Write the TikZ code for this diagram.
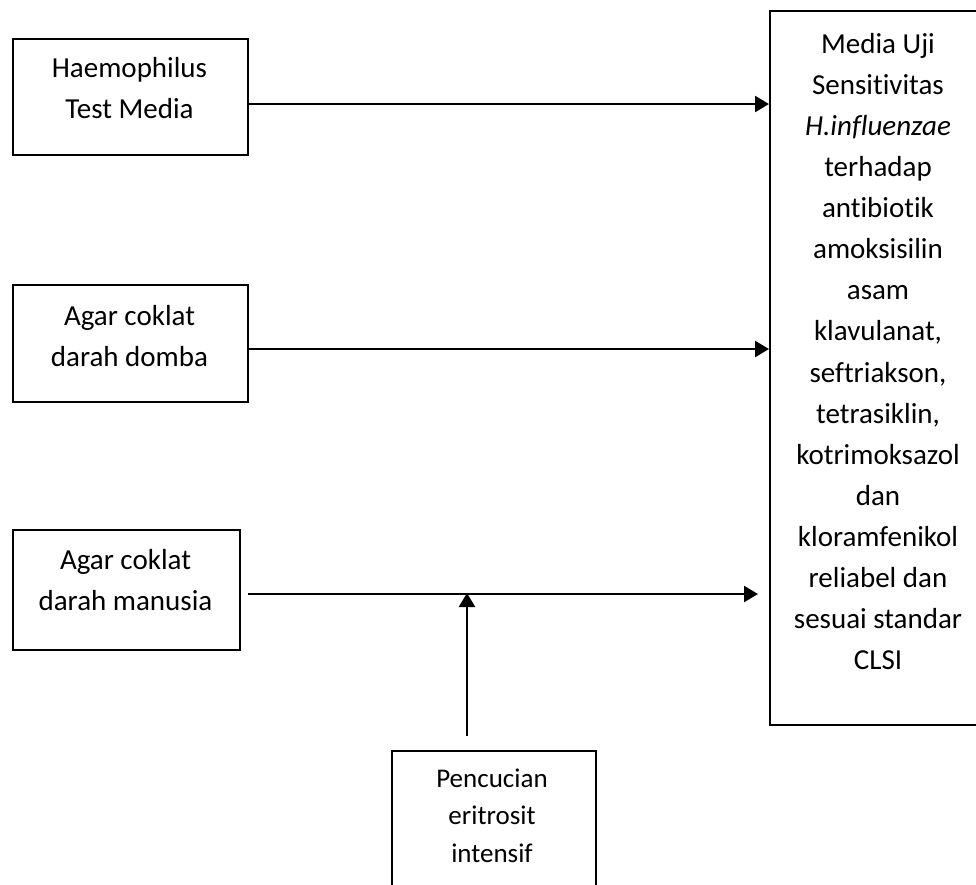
\documentclass[tikz,border=0pt]{standalone}
\usepackage{fontspec}
\setmainfont{Carlito}[Ligatures={NoCommon}]
\usetikzlibrary{arrows.meta,calc}
\begin{document}
\begin{tikzpicture}[x=1pt,y=-1pt,
  boxline/.style={draw=black,line width=2pt,rectangle,inner sep=0pt},
  txt/.style={align=center,font=\fontsize{29}{41.1}\selectfont,inner sep=0pt},
  txtb/.style={align=center,font=\fontsize{27}{37.5}\selectfont,inner sep=0pt},
  arr/.style={line width=2.5pt,-{Triangle[length=14pt,width=16pt]}}]
\useasboundingbox[fill=white] (0,0) rectangle (976,884);
% boxes
\node[boxline,anchor=north west,minimum width=235pt,minimum height=116pt] (b1) at (12,38) {};
\node[boxline,anchor=north west,minimum width=235pt,minimum height=117pt] (b2) at (12,284) {};
\node[boxline,anchor=north west,minimum width=227pt,minimum height=120pt] (b3) at (12,529) {};
\node[boxline,anchor=north west,minimum width=218pt,minimum height=714pt] (R) at (769,10) {};
\node[boxline,anchor=north west,minimum width=204pt,minimum height=160pt] (P) at (391,750) {};
% texts
\node[txt] (t1) at (129.5,88) {Haemophilus\\Test Media};
\node[txt] (t2) at (129.5,336) {Agar coklat\\darah domba};
\node[txt] (t3) at (125.5,580) {Agar coklat\\darah manusia};
\node[txt] (tR) at (878,351.5) {Media Uji\\Sensitivitas\\\textit{H.influenzae}\\terhadap\\antibiotik\\amoksisilin\\asam\\klavulanat,\\seftriakson,\\tetrasiklin,\\kotrimoksazol\\dan\\kloramfenikol\\reliabel dan\\sesuai standar\\CLSI};
\node[txtb] (tP) at (492,815.5) {Pencucian\\eritrosit\\intensif};
% connectors
\coordinate (a1) at ($(b1.east)+(0,7)$);
\coordinate (a2) at ($(b2.east)+(0,5.5)$);
\coordinate (a3s) at ($(b3.east)+(7,4)$);
\coordinate (a3e) at ($(R.west |- a3s)+(-11,0)$);
\coordinate (vj) at (467,593);
\coordinate (vs) at (467,736);
\draw[arr] (a1) -- (a1 -| R.west);
\draw[arr] (a2) -- (a2 -| R.west);
\draw[arr] (a3s) -- (a3e);
\draw[arr] (vs) -- (vj);
\end{tikzpicture}
\end{document}
